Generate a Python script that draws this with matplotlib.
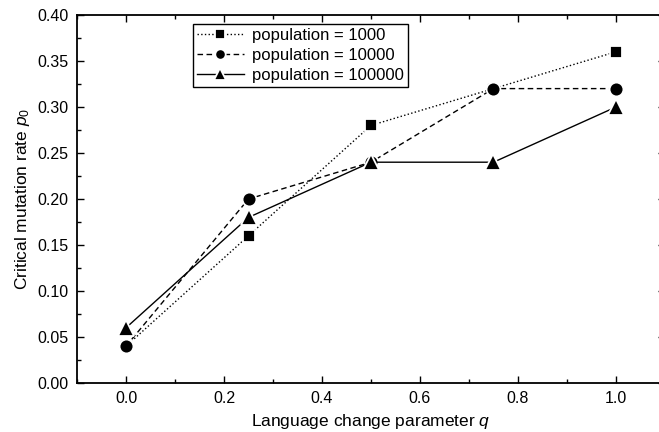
import matplotlib
matplotlib.use("Agg")
import matplotlib.pyplot as plt
import matplotlib.ticker as ticker

q = [0.0, 0.25, 0.5, 0.75, 1.0]
p_1000 = [0.04, 0.16, 0.28, 0.32, 0.36]
p_10000 = [0.04, 0.20, 0.24, 0.32, 0.32]
p_100000 = [0.06, 0.18, 0.24, 0.24, 0.30]
labels = ["population = 1000", "population = 10000", "population = 100000"]

plt.rcParams['font.family'] = ['Liberation Sans', 'DejaVu Sans']
plt.rcParams['mathtext.fontset'] = 'custom'
plt.rcParams['mathtext.it'] = 'Liberation Sans:italic'
plt.rcParams['mathtext.rm'] = 'Liberation Sans'

fig = plt.figure(figsize=(6.59, 4.32), dpi=100)
ax = fig.add_axes([77 / 659, 1 - 383 / 432, 588 / 659, 368 / 432])

ax.plot(q, p_1000, ls=':', color='black', lw=1, marker='s', ms=9,
        mec='white', mew=1.3, mfc='black', label=labels[0])
ax.plot(q, p_10000, ls='--', color='black', lw=1, marker='o', ms=10,
        mec='white', mew=1.3, mfc='black', label=labels[1], dashes=(4, 2.5))
ax.plot(q, p_100000, ls='-', color='black', lw=1, marker='^', ms=11,
        mec='white', mew=1.3, mfc='black', label=labels[2])

ax.set_xlim(-0.1, 1.1)
ax.set_ylim(0.0, 0.40)
ax.xaxis.set_major_locator(ticker.FixedLocator([0.0, 0.2, 0.4, 0.6, 0.8, 1.0]))
ax.xaxis.set_minor_locator(ticker.FixedLocator([-0.1, 0.1, 0.3, 0.5, 0.7, 0.9]))
ax.yaxis.set_major_locator(ticker.MultipleLocator(0.05))
ax.yaxis.set_minor_locator(ticker.MultipleLocator(0.025))
ax.xaxis.set_major_formatter(ticker.FormatStrFormatter('%.1f'))
ax.yaxis.set_major_formatter(ticker.FormatStrFormatter('%.2f'))

ax.tick_params(which='both', direction='in', top=True, right=True,
               labelsize=11.5, width=1)
ax.tick_params(which='major', length=5, pad=6)
ax.tick_params(which='minor', length=3)
for s in ax.spines.values():
    s.set_linewidth(1.3)

ax.set_xlabel("Language change parameter $q$", fontsize=12.5, labelpad=4)
ax.set_ylabel("Critical mutation rate $p_0$", fontsize=12.5, labelpad=4)

leg = ax.legend(loc='upper left', bbox_to_anchor=(0.197, 0.9755), fontsize=12,
                frameon=True, fancybox=False, edgecolor='black',
                handlelength=2.8, handletextpad=0.5, borderpad=0.25,
                labelspacing=0.3, borderaxespad=0, framealpha=1,
                markerscale=0.75)
leg.get_frame().set_linewidth(1)

fig.savefig("out.png", dpi=100)
